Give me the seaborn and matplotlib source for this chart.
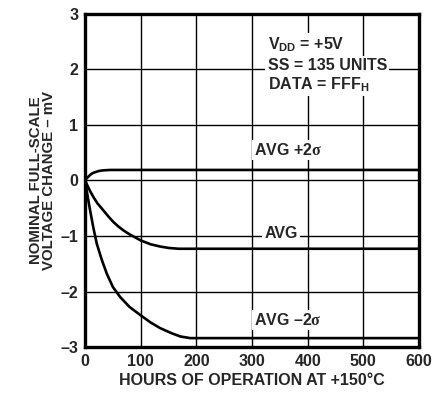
"""
Full-scale voltage drift vs. hours of operation at +150 C.
"""

import pandas as pd
import matplotlib
matplotlib.use('Agg')
import matplotlib.pyplot as plt
import seaborn as sns

# Data
HOURS_HI = [0, 3, 6, 9, 13, 18, 24, 30, 36, 45, 600]
AVG_HI = [0.0, 0.04, 0.07, 0.1, 0.13, 0.15, 0.17, 0.18, 0.185, 0.19, 0.19]

HOURS_AVG = [0, 5, 10, 15, 22, 33, 42, 51, 60, 69, 80, 100, 118, 135, 150, 168, 600]
AVG_MID = [0.0, -0.11, -0.21, -0.3, -0.41, -0.54, -0.65, -0.75, -0.83, -0.9,
           -0.97, -1.08, -1.15, -1.19, -1.215, -1.23, -1.23]

HOURS_LO = [0, 3, 6, 9, 15, 21, 30, 39, 50, 63, 80, 100, 118, 135, 155, 171, 189, 600]
AVG_LO = [0.0, -0.19, -0.37, -0.54, -0.86, -1.14, -1.43, -1.68, -1.92, -2.1,
          -2.28, -2.43, -2.56, -2.66, -2.75, -2.81, -2.84, -2.84]

X_TICKS = [0, 100, 200, 300, 400, 500, 600]
Y_TICKS = [-3, -2, -1, 0, 1, 2, 3]
Y_TICK_LABELS = ['\u20133', '\u20132', '\u20131', '0', '1', '2', '3']

sns.set_style('white')
plt.rcParams['font.family'] = ['Liberation Sans', 'DejaVu Sans']
plt.rcParams['font.weight'] = 'bold'
plt.rcParams['mathtext.fontset'] = 'custom'
plt.rcParams['mathtext.rm'] = 'Liberation Sans:bold'
plt.rcParams['mathtext.bf'] = 'Liberation Sans:bold'
plt.rcParams['mathtext.it'] = 'Liberation Serif'

fig = plt.figure(figsize=(4.48, 4.0), dpi=100)
ax = fig.add_axes([0.19, 0.1325, 0.745, 0.8325])

frames = [
    pd.DataFrame({'hours': HOURS_HI, 'mv': AVG_HI, 'curve': 'hi'}),
    pd.DataFrame({'hours': HOURS_AVG, 'mv': AVG_MID, 'curve': 'avg'}),
    pd.DataFrame({'hours': HOURS_LO, 'mv': AVG_LO, 'curve': 'lo'}),
]
df = pd.concat(frames, ignore_index=True)
sns.lineplot(data=df, x='hours', y='mv', units='curve', estimator=None,
             color='black', linewidth=1.9, sort=False, ax=ax, zorder=3)
for ln in ax.lines:
    ln.set_solid_joinstyle('round')

ax.set_xlim(0, 600)
ax.set_ylim(-3, 3)
ax.set_xticks(X_TICKS)
ax.set_yticks(Y_TICKS)
ax.set_yticklabels(Y_TICK_LABELS)
ax.grid(True, color='black', linewidth=1.0)
ax.set_axisbelow(True)
for sp in ax.spines.values():
    sp.set_linewidth(2.4)
    sp.set_color('black')
ax.tick_params(length=0, labelsize=11.5, pad=5)
for lbl in ax.get_xticklabels() + ax.get_yticklabels():
    lbl.set_fontweight('bold')

ax.set_xlabel('HOURS OF OPERATION AT +150\u00b0C', fontsize=11.5, fontweight='bold', labelpad=3)
ax.set_ylabel('NOMINAL FULL-SCALE\nVOLTAGE CHANGE \u2013 mV', fontsize=10.8,
              fontweight='bold', labelpad=3, linespacing=0.95)

# curve labels sit on a white patch that breaks the grid lines
box = dict(facecolor='white', edgecolor='none', pad=1.5)
ax.text(365, 0.55, 'AVG +2$\\sigma$', ha='center', va='center', fontsize=11.5,
        fontweight='bold', bbox=box, zorder=4)
ax.text(352, -0.95, 'AVG', ha='center', va='center', fontsize=11.5,
        fontweight='bold', bbox=box, zorder=4)
ax.text(365, -2.52, 'AVG \u20132$\\sigma$', ha='center', va='center', fontsize=11.5,
        fontweight='bold', bbox=box, zorder=4)

ax.text(328, 2.45, r'$\mathrm{V_{DD}}$ = +5V', ha='left', va='center',
        fontsize=11.5, fontweight='bold', bbox=box, zorder=4)
ax.text(328, 2.07, 'SS = 135 UNITS', ha='left', va='center',
        fontsize=11.5, fontweight='bold', bbox=box, zorder=4)
ax.text(328, 1.72, r'DATA = FFF$_\mathrm{H}$', ha='left', va='center',
        fontsize=11.5, fontweight='bold', bbox=box, zorder=4)

fig.savefig('out.png', dpi=100)
